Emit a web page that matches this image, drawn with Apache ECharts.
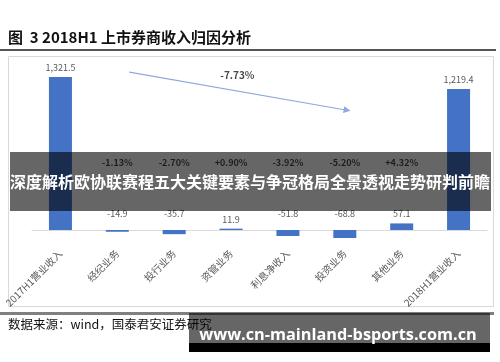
<!DOCTYPE html>
<html><head><meta charset="utf-8">
<script src="https://cdn.jsdelivr.net/npm/echarts@6/dist/echarts.min.js"></script>
<style>html,body{margin:0;padding:0;background:#fff}#c{width:500px;height:362px}</style>
</head><body><div id="c"></div>
<script>
const categories = ['2017H1营业收入','经纪业务','投行业务','资管业务','利息净收入','投资业务','其他业务','2018H1营业收入'];
const values = [1321.5, -14.9, -35.7, 11.9, -51.8, -68.8, 57.1, 1219.4];
const pctLabels = ['', '-1.13%', '-2.70%', '+0.90%', '-3.92%', '-5.20%', '+4.32%', ''];
const totalChange = '-7.73%';
const trendFrom = [1.21, 1365];
const trendTo = [5.04, 1035];
const PCT_ROW = 579;

const CJK = '"Noto Sans CJK SC", "Noto Sans", sans-serif';
const chart = echarts.init(document.getElementById('c'), null, {renderer: 'canvas'});

const fmt = v => v.toLocaleString('en-US', {minimumFractionDigits: 1, maximumFractionDigits: 1});

const barData = values.map(v => ({
  value: v,
  label: {position: 'top', distance: v < 0 ? 12 : 5}
}));

const pctData = pctLabels.map((t, i) => t ? {value: [i, PCT_ROW], name: t} : null).filter(Boolean);

chart.setOption({
  animation: false,
  backgroundColor: '#fff',
  grid: {left: 32, right: 13, top: 68, height: 173.6},
  xAxis: [{
    type: 'category', data: categories,
    axisLine: {lineStyle: {color: '#d9d9d9'}},
    axisTick: {show: false},
    axisLabel: {rotate: 45, color: '#595959', fontSize: 10, fontFamily: CJK, margin: 10, interval: 0}
  }, {
    type: 'value', min: -0.5, max: 7.5, show: false
  }],
  yAxis: {type: 'value', min: -100, max: 1400, show: false, splitLine: {show: false}},
  series: [{
    type: 'bar', data: barData, barWidth: 23,
    itemStyle: {color: '#4472C4'},
    label: {show: true, color: '#595959', fontSize: 9, fontFamily: CJK, formatter: p => fmt(p.value)}
  }, {
    type: 'scatter', xAxisIndex: 1, data: pctData, symbolSize: 0,
    label: {show: true, position: 'inside', formatter: p => p.name, color: '#1a1a1a', fontWeight: 'bold', fontSize: 9, fontFamily: CJK}
  }, {
    type: 'scatter', xAxisIndex: 1, symbolSize: 0,
    data: [{value: [3.11, 1340], name: totalChange}],
    label: {show: true, position: 'inside', formatter: p => p.name, color: '#1a1a1a', fontWeight: 'bold', fontSize: 10, fontFamily: CJK},
    markLine: {
      silent: true, symbol: ['none', 'triangle'], symbolSize: [7, 7],
      lineStyle: {color: '#8EA9DB', width: 1.2, type: 'solid'},
      itemStyle: {color: '#4472C4'},
      label: {show: false},
      data: [[{coord: trendFrom}, {coord: trendTo}]]
    }
  }],
  graphic: [
    {type: 'text', left: 8, top: 30, style: {text: '图  3 2018H1 上市券商收入归因分析', font: 'bold 15px ' + CJK, fill: '#111'}},
    {type: 'rect', shape: {x: 0, y: 49, width: 496, height: 2}, style: {fill: '#555'}},
    {type: 'rect', shape: {x: 8.5, y: 56.5, width: 485, height: 250}, style: {fill: 'none', stroke: '#d9d9d9', lineWidth: 1}, z: -1},
    {type: 'rect', shape: {x: 0, y: 312, width: 494, height: 3}, style: {fill: '#808080'}},
    {type: 'text', left: 8, top: 318, style: {text: '数据来源：wind，国泰君安证券研究', font: '12.5px ' + CJK, fill: '#111'}},
    {type: 'rect', shape: {x: 10, y: 152, width: 481, height: 59}, style: {fill: 'rgba(0,0,0,0.6)'}, z: 100},
    {type: 'text', x: 250, y: 182, z: 101, style: {text: '深度解析欧协联赛程五大关键要素与争冠格局全景透视走势研判前瞻', font: 'bold 16px ' + CJK, fill: '#fff', align: 'center', verticalAlign: 'middle'}},
    {type: 'rect', shape: {x: 189, y: 313, width: 301, height: 30}, style: {fill: 'rgba(0,0,0,0.6)'}, z: 100},
    {type: 'rect', shape: {x: 189, y: 343, width: 301, height: 9}, style: {fill: '#000'}, z: 100},
    {type: 'text', x: 338, y: 335, z: 101, style: {text: 'www.cn-mainland-bsports.com.cn', font: 'bold 16.3px "Open Sans", "Noto Sans", sans-serif', fill: '#fff', align: 'center', verticalAlign: 'middle'}}
  ]
});
</script></body></html>
